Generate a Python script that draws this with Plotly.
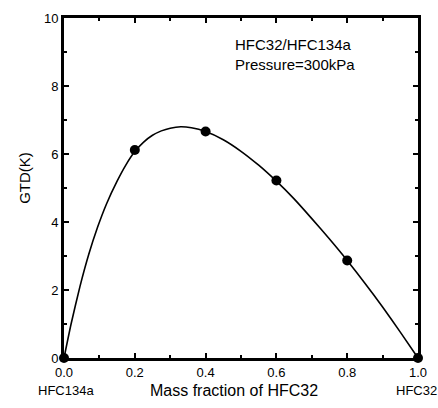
import plotly.graph_objects as go

# Measured data points
pt_x = [0.0, 0.2, 0.4, 0.6, 0.8, 1.0]
pt_y = [0.0, 6.12, 6.66, 5.22, 2.87, 0.0]

# Fitted curve
curve_x = [0, 0.02, 0.045, 0.07, 0.095, 0.12, 0.15, 0.175, 0.2, 0.225, 0.25, 0.275,
           0.3, 0.33, 0.36, 0.4, 0.45, 0.5, 0.55, 0.6, 0.65, 0.7, 0.75, 0.8,
           0.85, 0.9, 0.95, 1.0]
curve_y = [0, 1.0, 2.1, 3.05, 3.85, 4.53, 5.2, 5.68, 6.07, 6.35, 6.55, 6.68,
           6.76, 6.8, 6.77, 6.66, 6.42, 6.08, 5.67, 5.2, 4.68, 4.1, 3.5, 2.87,
           2.2, 1.5, 0.76, 0]

x_ticks = [0.0, 0.2, 0.4, 0.6, 0.8, 1.0]
x_tick_text = ["0.0", "0.2", "0.4", "0.6", "0.8", "1.0"]
y_ticks = [0, 2, 4, 6, 8, 10]

FONT = "Liberation Sans, Arial, sans-serif"

fig = go.Figure()
fig.add_trace(go.Scatter(x=curve_x, y=curve_y, mode="lines",
                         line=dict(color="black", width=1.6, shape="spline", smoothing=0.5),
                         hoverinfo="skip", showlegend=False))
fig.add_trace(go.Scatter(x=pt_x, y=pt_y, mode="markers",
                         marker=dict(color="black", size=10),
                         cliponaxis=False, showlegend=False))

axis_common = dict(showline=True, linecolor="black", linewidth=2.8, mirror="ticks",
                   ticks="inside", tickcolor="black", tickwidth=2, ticklen=5,
                   showgrid=False, zeroline=False,
                   tickfont=dict(family=FONT, size=13, color="black"))

fig.update_xaxes(range=[0, 1], tickvals=x_ticks, ticktext=x_tick_text,
                 minor=dict(ticks="inside", ticklen=3, tickwidth=1.5, tickcolor="black", dtick=0.1),
                 **axis_common)
fig.update_yaxes(range=[0, 10], tickvals=y_ticks,
                 minor=dict(ticks="inside", ticklen=3, tickwidth=1.5, tickcolor="black", dtick=1),
                 **axis_common)

fig.add_annotation(x=0.5, y=-0.095, xref="paper", yref="paper", text="Mass fraction of HFC32",
                   showarrow=False, font=dict(family=FONT, size=16, color="black"),
                   xanchor="center", yanchor="middle", xshift=-7)
fig.add_annotation(x=0.0, y=-0.095, xref="paper", yref="paper", text="HFC134a",
                   showarrow=False, font=dict(family=FONT, size=13, color="black"),
                   xanchor="center", yanchor="middle", xshift=2)
fig.add_annotation(x=1.0, y=-0.095, xref="paper", yref="paper", text="HFC32",
                   showarrow=False, font=dict(family=FONT, size=13, color="black"),
                   xanchor="center", yanchor="middle", xshift=-2)
fig.add_annotation(x=-0.11, y=0.53, xref="paper", yref="paper", text="GTD(K)",
                   showarrow=False, textangle=-90, font=dict(family=FONT, size=15, color="black"),
                   xanchor="center", yanchor="middle")
fig.add_annotation(x=0.478, y=0.893, xref="paper", yref="paper",
                   text="HFC32/HFC134a<br>Pressure=300kPa", align="left",
                   showarrow=False, font=dict(family=FONT, size=15, color="black"),
                   xanchor="left", yanchor="middle")

fig.update_layout(width=438, height=408, margin=dict(l=64, r=14, t=11, b=50),
                  plot_bgcolor="white", paper_bgcolor="white", showlegend=False)

fig.write_html("out.html")
